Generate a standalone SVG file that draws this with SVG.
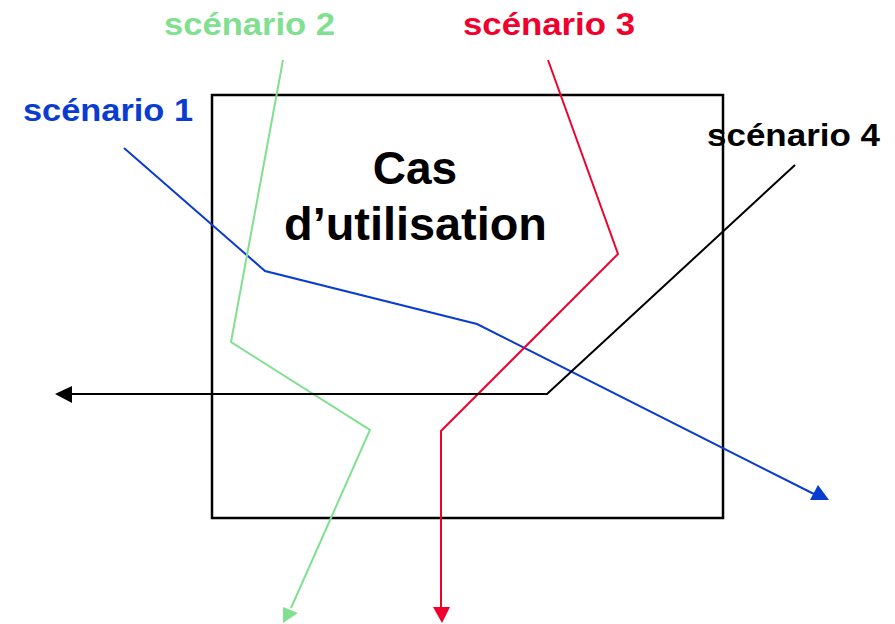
<svg xmlns="http://www.w3.org/2000/svg" width="895" height="624" viewBox="0 0 895 624">
<style>
.t{font-family:"Liberation Sans",Arial,sans-serif;font-weight:bold}
.s{font-size:32px}
.big{font-size:46px;fill:#000}
.ln{fill:none;stroke-width:2}
</style>
<rect width="895" height="624" fill="#fff"/>
<g id="usecase">
<rect x="212" y="95" width="511" height="423" fill="none" stroke="#000" stroke-width="2.5"/>
<text class="t big" x="415" y="184" text-anchor="middle">Cas</text>
<text class="t big" x="284" y="240" textLength="263" lengthAdjust="spacingAndGlyphs">d’utilisation</text>
</g>
<g id="labels">
<text id="s1" class="t s" x="23" y="121" fill="#0a3cd2" textLength="170" lengthAdjust="spacingAndGlyphs">scénario 1</text>
<text id="s2" class="t s" x="164" y="35" fill="#80e090" textLength="171" lengthAdjust="spacingAndGlyphs">scénario 2</text>
<text id="s3" class="t s" x="463" y="35" fill="#f0002c" textLength="172" lengthAdjust="spacingAndGlyphs">scénario 3</text>
<text id="s4" class="t s" x="707" y="146" fill="#000" textLength="173" lengthAdjust="spacingAndGlyphs">scénario 4</text>
</g>
<g id="connectors">
<polyline class="ln" stroke="#0a3cd2" points="124,148 265,271 477,324 814,494"/>
<polygon fill="#0a3cd2" points="818,485 829,500 810,500"/>
<polyline class="ln" stroke="#80e090" points="283,60 231,342 370,430 291,608"/>
<polygon fill="#80e090" points="283,607 298,613 283,623"/>
<polyline class="ln" stroke="#f0002c" points="548,60 618,254 441,431 441,608"/>
<polygon fill="#f0002c" points="433,607 450,607 442,623"/>
<polyline class="ln" stroke="#000" points="795,165 547,394 70,394"/>
<polygon fill="#000" points="55,394 72,386 72,403"/>
</g>
</svg>
